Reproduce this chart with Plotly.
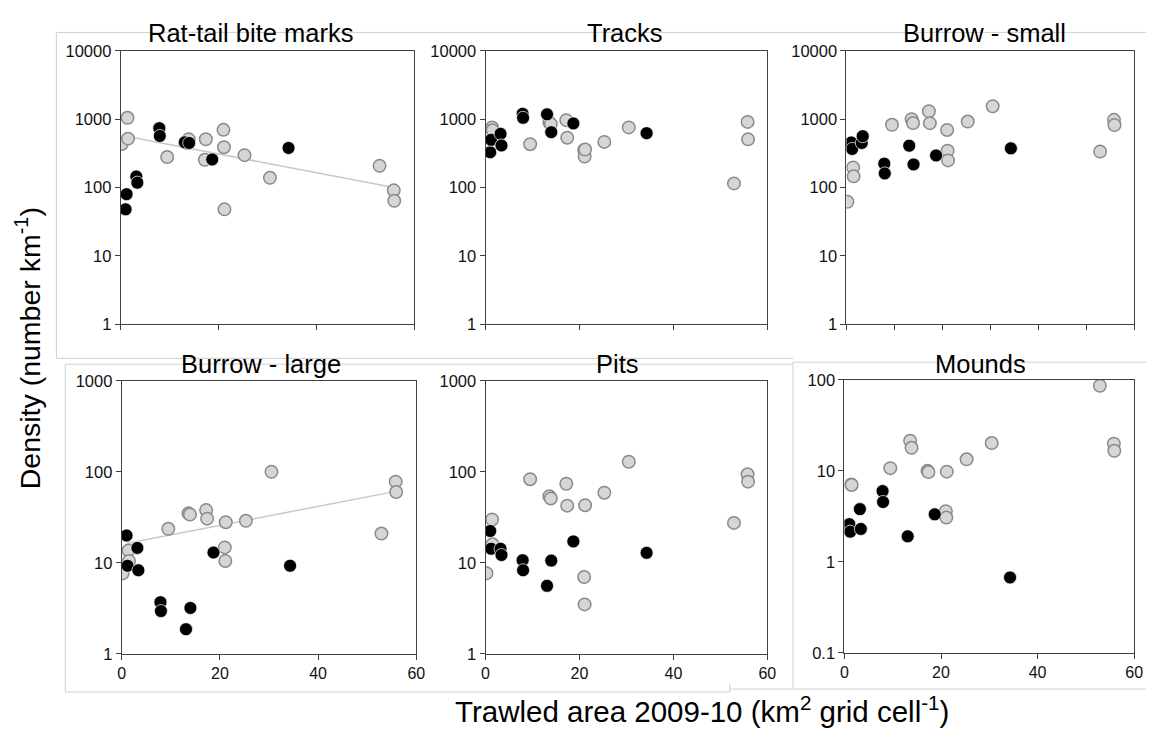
import math
import plotly.graph_objects as go

W, H = 1155, 742

# ---- shared station x positions (trawled area, km2 per grid cell) ----
x_gray = [0.2, 1.4, 1.5, 9.5, 13.6, 13.9, 17.2, 17.4, 21.0, 21.1, 21.2, 25.3, 30.5, 52.9, 55.8, 55.9]
x_black = [1.0, 1.2, 3.2, 3.4, 7.9, 8.0, 13.1, 14.0, 18.7, 34.3]

# ---- densities per panel ----
rattail_gray = [435, 1050, 520, 280, 450, 510, 255, 510, 700, 390, 48, 298, 139, 208, 91, 64]
rattail_black = [48, 80, 145, 118, 740, 570, 460, 450, 258, 380]
rattail_trend_x = [1.4, 55.8]
rattail_trend_y = [560, 100]

tracks_gray = [612, 760, 690, 431, 900, 850, 970, 537, 354, 285, 360, 466, 760, 115, 915, 508]
tracks_black = [329, 500, 612, 413, 1200, 1050, 1180, 647, 870, 626]

bsmall_gray = [62, 197, 146, 830, 1000, 880, 1310, 877, 698, 347, 250, 926, 1550, 336, 980, 822]
bsmall_black = [457, 368, 450, 565, 224, 161, 410, 218, 295, 375]

blarge_gray = [7.7, 13.7, 10.5, 23.7, 35, 34, 38, 30.6, 14.8, 10.5, 28, 29, 100, 21, 78, 60]
blarge_black = [20, 9.3, 14.6, 8.3, 3.7, 2.96, 1.87, 3.2, 13, 9.3]
blarge_trend_x = [1.1, 55.8]
blarge_trend_y = [16.4, 61]

pits_gray = [7.7, 30, 16, 83, 54, 51, 74, 42.5, 7.0, 3.5, 43, 59, 129, 27.5, 94, 78]
pits_black = [22.4, 14.3, 14.3, 12.2, 10.7, 8.3, 5.6, 10.6, 17.2, 12.9]

mounds_gray = [None, 7.1, 7.0, 10.7, 21.4, 17.9, 10.0, 9.7, 3.6, 3.07, 9.8, 13.4, 20.2, 86, 19.9, 16.6]
mounds_black = [2.6, 2.15, 3.8, 2.3, 6.0, 4.55, 1.91, None, 3.33, 0.675]

titles = ["Rat-tail bite marks", "Tracks", "Burrow - small", "Burrow - large", "Pits", "Mounds"]
y_ticks_4 = [1, 10, 100, 1000, 10000]
y_ticks_3 = [1, 10, 100, 1000]
y_ticks_m = [0.1, 1, 10, 100]
x_ticks = [0, 20, 40, 60]
x_ticks_10 = [0, 10, 20, 30, 40, 50, 60]

FONT = "Liberation Sans, Arial, sans-serif"


def fx(px):
    return px / W


def fy(py):
    return 1 - py / H


# panel geometry (pixels): x0, x1, ytop, ybottom
panels = [
    dict(title=titles[0], g=rattail_gray, b=rattail_black, box=(118, 415, 43, 323), yt=y_ticks_4,
         xt=x_ticks, xlab=False, trend=(rattail_trend_x, rattail_trend_y), tpos=(249, 25)),
    dict(title=titles[1], g=tracks_gray, b=tracks_black, box=(487, 772, 43, 323), yt=y_ticks_4,
         xt=x_ticks, xlab=False, trend=None, tpos=(628, 25)),
    dict(title=titles[2], g=bsmall_gray, b=bsmall_black, box=(852, 1143, 43, 323), yt=y_ticks_4,
         xt=x_ticks_10, xlab=False, trend=None, tpos=(992, 25)),
    dict(title=titles[3], g=blarge_gray, b=blarge_black, box=(119, 417, 381, 661), yt=y_ticks_3,
         xt=x_ticks, xlab=True, trend=(blarge_trend_x, blarge_trend_y), tpos=(260, 364)),
    dict(title=titles[4], g=pits_gray, b=pits_black, box=(487, 772, 381, 661), yt=y_ticks_3,
         xt=x_ticks, xlab=True, trend=None, tpos=(620, 364)),
    dict(title=titles[5], g=mounds_gray, b=mounds_black, box=(850, 1143, 380, 660), yt=y_ticks_m,
         xt=x_ticks, xlab=True, trend=None, tpos=(988, 364)),
]

fig = go.Figure()
layout = dict(
    width=W, height=H,
    margin=dict(l=0, r=0, t=0, b=0),
    paper_bgcolor="white", plot_bgcolor="white",
    showlegend=False,
    font=dict(family=FONT, color="#111111"),
)
annotations = []

for i, p in enumerate(panels, start=1):
    sx = "" if i == 1 else str(i)
    xa, ya = "x" + sx, "y" + sx
    x0, x1, yt, yb = p["box"]
    if p["trend"] is not None:
        fig.add_trace(go.Scatter(x=p["trend"][0], y=p["trend"][1], mode="lines",
                                 line=dict(color="#c8c8c8", width=1.5),
                                 xaxis=xa, yaxis=ya, hoverinfo="skip"))
    fig.add_trace(go.Scatter(x=x_gray, y=p["g"], mode="markers",
                             marker=dict(size=12.5, color="#d6d6d6",
                                         line=dict(color="#8a8a8a", width=1.5)),
                             xaxis=xa, yaxis=ya))
    fig.add_trace(go.Scatter(x=x_black, y=p["b"], mode="markers",
                             marker=dict(size=13, color="#000000",
                                         line=dict(color="rgba(255,255,255,0.7)", width=1)),
                             xaxis=xa, yaxis=ya))
    yr = [math.log10(p["yt"][0]), math.log10(p["yt"][-1])]
    layout["xaxis" + sx] = dict(
        domain=[fx(x0), fx(x1)], anchor=ya, range=[0, 60],
        tickmode="array", tickvals=p["xt"], ticktext=[str(v) for v in p["xt"]],
        showticklabels=p["xlab"],
        ticks="outside", ticklen=5, tickcolor="#404040", tickwidth=1,
        showline=True, linecolor="#404040", linewidth=1, mirror=True,
        showgrid=False, zeroline=False,
        tickfont=dict(family=FONT, size=16, color="#111111"),
    )
    layout["yaxis" + sx] = dict(
        domain=[fy(yb), fy(yt)], anchor=xa, type="log", range=yr,
        tickmode="array", tickvals=p["yt"], ticktext=[("%g" % v) for v in p["yt"]],
        ticks="outside", ticklen=5, tickcolor="#404040", tickwidth=1,
        showline=True, linecolor="#404040", linewidth=1, mirror=True,
        showgrid=False, zeroline=False,
        tickfont=dict(family=FONT, size=16.5, color="#111111"),
    )
    annotations.append(dict(text=p["title"], x=fx(p["tpos"][0]), y=fy(p["tpos"][1]),
                            xref="paper", yref="paper", xanchor="center", yanchor="middle",
                            showarrow=False, font=dict(family=FONT, size=25.5, color="#000000")))

annotations.append(dict(text="Density (number km<sup>-1</sup>)", x=fx(24), y=fy(348),
                        xref="paper", yref="paper", xanchor="center", yanchor="middle",
                        textangle=-90, showarrow=False,
                        font=dict(family=FONT, size=28.5, color="#000000")))
annotations.append(dict(text="Trawled area 2009-10 (km<sup>2</sup> grid cell<sup>-1</sup>)",
                        x=fx(706), y=fy(718),
                        xref="paper", yref="paper", xanchor="center", yanchor="middle",
                        showarrow=False, font=dict(family=FONT, size=29.5, color="#000000")))

# light gray chart-area frames
frame_lines = [
    (53, 24, 1155, 24), (53, 24, 53, 358), (53, 358, 798, 358),
    (798, 362, 1155, 362), (62, 364, 798, 364), (62, 364, 62, 700), (62, 700, 734, 700),
    (798, 362, 798, 697), (734, 697, 1155, 697), (734, 692, 734, 700),
]
shapes = []
for (a, b, c, d) in frame_lines:
    shapes.append(dict(type="line", xref="paper", yref="paper",
                       x0=fx(a), y0=fy(b), x1=fx(c), y1=fy(d),
                       line=dict(color="#d0d0d0", width=1), layer="below"))

layout["annotations"] = annotations
layout["shapes"] = shapes
fig.update_layout(**layout)
fig.write_html("out.html")
